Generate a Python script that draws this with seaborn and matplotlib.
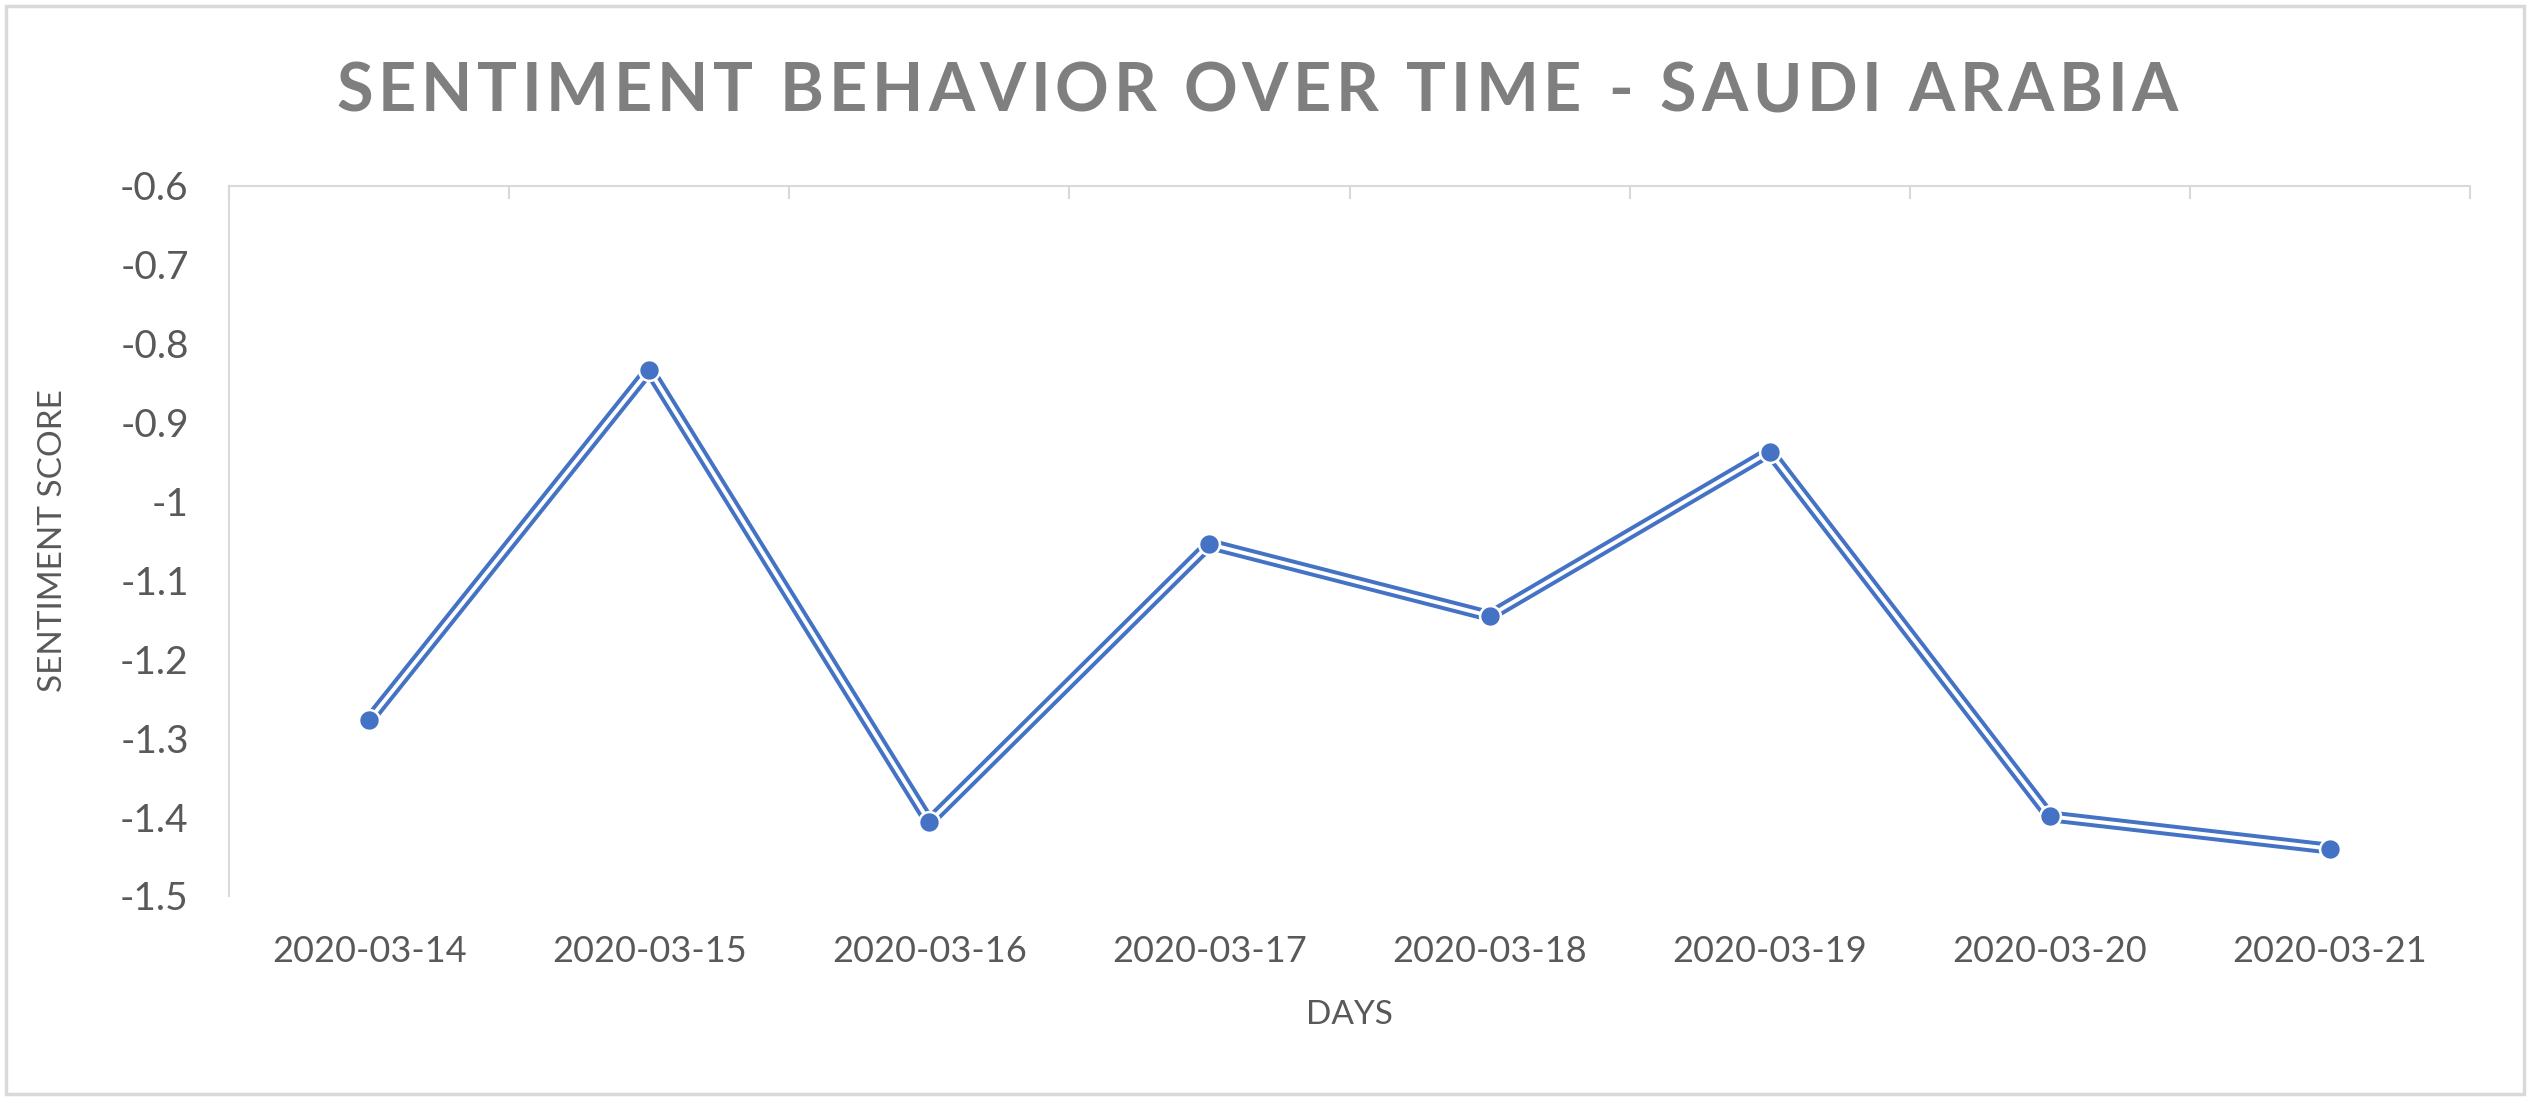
import matplotlib
matplotlib.use("Agg")
import matplotlib.pyplot as plt
import matplotlib.patches as mpatches
from matplotlib.ticker import FixedLocator
import seaborn as sns
import numpy as np
import pandas as pd

# ── Data ─────────────────────────────────────────────────────────────────────
days = ["2020-03-14", "2020-03-15", "2020-03-16", "2020-03-17",
        "2020-03-18", "2020-03-19", "2020-03-20", "2020-03-21"]
scores = [-1.277, -0.833, -1.406, -1.054, -1.145, -0.937, -1.399, -1.440]
y_ticks = [-1.5, -1.4, -1.3, -1.2, -1.1, -1.0, -0.9, -0.8, -0.7, -0.6]

TITLE = "SENTIMENT BEHAVIOR OVER TIME - SAUDI ARABIA"
XLABEL = "DAYS"
YLABEL = "SENTIMENT SCORE"

# ── Style ────────────────────────────────────────────────────────────────────
BLUE = "#4472C4"
TEXT = "#595959"
TITLE_C = "#7F7F7F"
GRID = "#D9D9D9"

sns.set_theme(style="white")
plt.rcParams["font.family"] = ["Lato", "DejaVu Sans"]

df = pd.DataFrame({"day": days, "score": scores})

W, H = 2530, 1100
fig = plt.figure(figsize=(W / 100, H / 100), dpi=100, facecolor="white")
ax = fig.add_axes([229 / W, 1 - 896 / H, (2470 - 229) / W, (896 - 186) / H])
ax.set_facecolor("white")

# double ("compound") line: thick blue with a white core
sns.lineplot(data=df, x="day", y="score", ax=ax, color=BLUE,
             linewidth=8.5, sort=False, zorder=2)
sns.lineplot(data=df, x="day", y="score", ax=ax, color="white",
             linewidth=2.8, sort=False, zorder=3)
sns.scatterplot(data=df, x="day", y="score", ax=ax, color=BLUE,
                s=15 ** 2, edgecolor="white", linewidth=1.8, zorder=4)

# ── Axes ─────────────────────────────────────────────────────────────────────
ax.set_xlim(-0.5, len(days) - 0.5)
ax.set_ylim(y_ticks[0], y_ticks[-1])
ax.set_yticks(y_ticks)
ax.set_yticklabels([f"{t:g}" for t in y_ticks])

for side in ["bottom", "right"]:
    ax.spines[side].set_visible(False)
for side in ["top", "left"]:
    ax.spines[side].set_visible(True)
    ax.spines[side].set_color(GRID)
    ax.spines[side].set_linewidth(1.5)

ax.xaxis.set_minor_locator(FixedLocator(np.arange(-0.5, len(days), 1.0)))
ax.tick_params(axis="x", which="major", bottom=False, top=False, length=0,
               pad=28, labelsize=26, labelcolor=TEXT)
ax.tick_params(axis="x", which="minor", bottom=False, top=True,
               direction="in", length=9, width=1.5, color=GRID)
ax.tick_params(axis="y", length=0, pad=29, labelsize=28, labelcolor=TEXT)
ax.grid(False)

ax.set_xlabel(XLABEL, fontsize=24, color=TEXT)
ax.set_ylabel(YLABEL, fontsize=24, color=TEXT)
ax.xaxis.set_label_coords(0.5, -0.146)
ax.yaxis.set_label_coords(-0.072, 0.5)

# ── Title with wide letter spacing ───────────────────────────────────────────
renderer = fig.canvas.get_renderer()
title_kw = dict(fontsize=48, fontweight="bold", color=TITLE_C,
                va="baseline", ha="left")
space_w = 0.26 * 48 * 100 / 72
widths = []
for ch in TITLE:
    if ch == " ":
        widths.append(space_w)
        continue
    t = fig.text(0, 0, ch, **title_kw)
    widths.append(t.get_window_extent(renderer).width)
    t.remove()

left_px, right_px = 336, 2178
gap = (right_px - left_px - sum(widths)) / (len(TITLE) - 1)
x = left_px
for ch, w in zip(TITLE, widths):
    if ch != " ":
        fig.text(x / W, 1 - 111 / H, ch, **title_kw)
    x += w + gap

# chart-area border
fig.patches.append(mpatches.Rectangle(
    (6 / W, 6 / H), 1 - 12 / W, 1 - 12 / H, transform=fig.transFigure,
    fill=False, edgecolor=GRID, linewidth=2.5))

fig.savefig("out.png", dpi=100, facecolor="white")
